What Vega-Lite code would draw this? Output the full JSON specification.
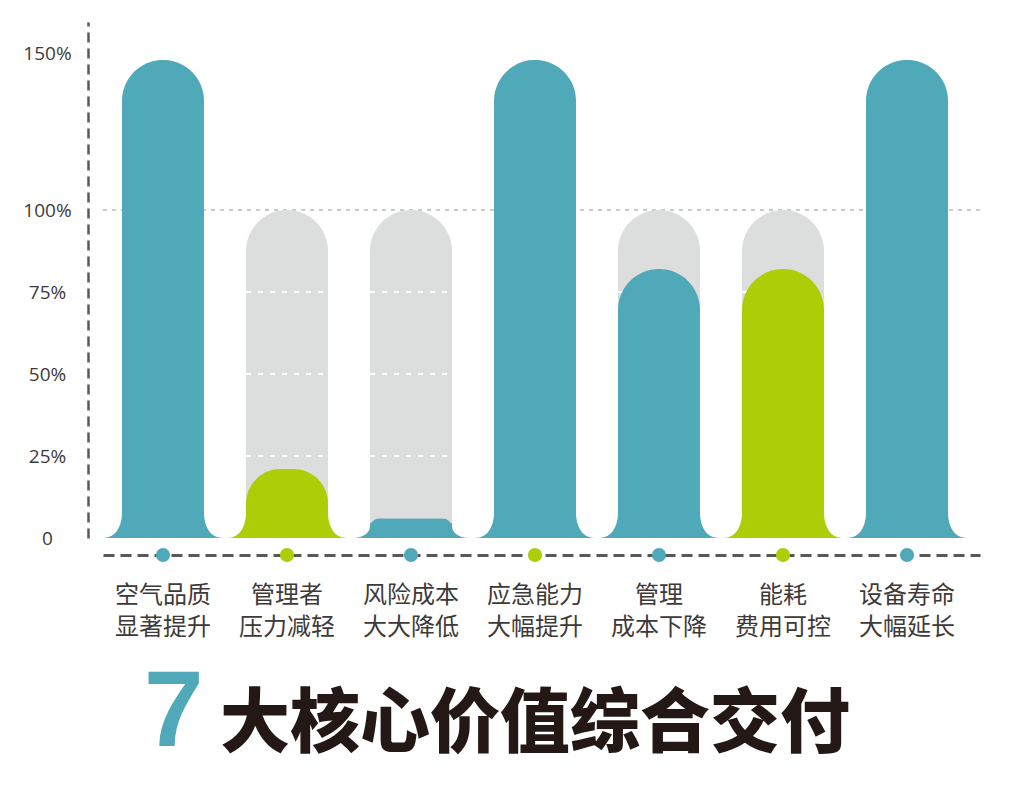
{
  "$schema": "https://vega.github.io/schema/vega-lite/v6.json",
  "width": 877,
  "height": 516,
  "autosize": {"type": "none"},
  "padding": {"left": 103, "top": 22, "right": 37, "bottom": 254},
  "background": "#ffffff",
  "config": {
    "view": {"stroke": null},
    "axisX": {
      "domainDash": [11, 6],
      "domainColor": "#595757",
      "domainWidth": 3,
      "offset": 17,
      "ticks": false,
      "tickSize": 0,
      "grid": false,
      "labelAngle": 0,
      "labelFont": "Noto Sans CJK SC",
      "labelFontSize": 24,
      "labelColor": "#3e3a39",
      "labelLineHeight": 32,
      "labelPadding": 28
    },
    "axisY": {
      "domainDash": [10, 6],
      "domainColor": "#595757",
      "domainWidth": 2.5,
      "offset": 15,
      "ticks": false,
      "tickSize": 0,
      "grid": false,
      "labelFont": "Open Sans",
      "labelFontSize": 19,
      "labelColor": "#3e3a39",
      "labelAlign": "center",
      "labelBaseline": "middle",
      "labelPadding": 41
    }
  },
  "title": {
    "text": "7",
    "subtitle": "大核心价值综合交付",
    "orient": "bottom",
    "anchor": "start",
    "frame": "group",
    "offset": 22,
    "dx": 41,
    "font": "Liberation Sans",
    "fontSize": 107,
    "fontWeight": "bold",
    "color": "#50a9b8",
    "subtitleFont": "Noto Sans CJK SC",
    "subtitleFontSize": 70,
    "subtitleFontWeight": 900,
    "subtitleColor": "#231815",
    "subtitlePadding": -76,
    "encode": {"subtitle": {"update": {"dx": {"value": 117}}}}
  },
  "data": {
    "values": [
      {"item": "空气品质 显著提升", "value": 147.8, "base": null, "bar": "A", "dot": "A"},
      {"item": "管理者 压力减轻", "value": 21, "base": 100, "bar": "B", "dot": "B"},
      {"item": "风险成本 大大降低", "value": 6, "base": 100, "bar": "A", "dot": "A"},
      {"item": "应急能力 大幅提升", "value": 147.8, "base": null, "bar": "A", "dot": "B"},
      {"item": "管理 成本下降", "value": 82, "base": 100, "bar": "A", "dot": "A"},
      {"item": "能耗 费用可控", "value": 82, "base": 100, "bar": "B", "dot": "B"},
      {"item": "设备寿命 大幅延长", "value": 147.8, "base": null, "bar": "A", "dot": "A"}
    ]
  },
  "layer": [
    {
      "data": {"values": [{"ref": 100}]},
      "mark": {"type": "rule", "color": "#c9caca", "strokeWidth": 2, "strokeDash": [4, 5]},
      "encoding": {
        "y": {
          "field": "ref",
          "type": "quantitative",
          "title": null,
          "scale": {"domain": [0, 100, 150, 159.87], "range": [516, 188, 31, 0], "nice": false, "zero": true},
          "axis": {
            "values": [0, 25, 50, 75, 100, 150],
            "labelExpr": "datum.value == 0 ? '0' : datum.value + '%'"
          }
        }
      }
    },
    {
      "transform": [{"filter": "datum.base != null"}],
      "mark": {"type": "bar", "color": "#dcdddd", "cornerRadiusTopLeft": 41, "cornerRadiusTopRight": 41},
      "encoding": {
        "x": {
          "field": "item",
          "type": "nominal",
          "sort": null,
          "title": null,
          "scale": {
            "domain": ["空气品质 显著提升", "管理者 压力减轻", "风险成本 大大降低", "应急能力 大幅提升", "管理 成本下降", "能耗 费用可控", "设备寿命 大幅延长"],
            "paddingInner": 0.3387, "paddingOuter": 0.2056, "align": 0.3725
          },
          "axis": {"labelExpr": "split(datum.label, ' ')"}
        },
        "y": {"field": "base", "type": "quantitative", "title": null}
      }
    },
    {
      "transform": [{"filter": "datum.base != null"}],
      "mark": {"type": "rule", "color": "#ffffff", "strokeWidth": 2, "strokeDash": [5, 7], "xOffset": -41, "x2Offset": 41},
      "encoding": {
        "x": {"field": "item", "type": "nominal", "sort": null, "title": null},
        "x2": {"field": "item"},
        "y": {"datum": 25, "type": "quantitative", "title": null}
      }
    },
    {
      "transform": [{"filter": "datum.base != null"}],
      "mark": {"type": "rule", "color": "#ffffff", "strokeWidth": 2, "strokeDash": [5, 7], "xOffset": -41, "x2Offset": 41},
      "encoding": {
        "x": {"field": "item", "type": "nominal", "sort": null, "title": null},
        "x2": {"field": "item"},
        "y": {"datum": 50, "type": "quantitative", "title": null}
      }
    },
    {
      "transform": [{"filter": "datum.base != null"}],
      "mark": {"type": "rule", "color": "#ffffff", "strokeWidth": 2, "strokeDash": [5, 7], "xOffset": -41, "x2Offset": 41},
      "encoding": {
        "x": {"field": "item", "type": "nominal", "sort": null, "title": null},
        "x2": {"field": "item"},
        "y": {"datum": 75, "type": "quantitative", "title": null}
      }
    },
    {
      "mark": {"type": "point", "filled": true, "opacity": 1, "strokeWidth": 0},
      "encoding": {
        "x": {"field": "item", "type": "nominal", "sort": null, "title": null},
        "y": {"datum": 0, "type": "quantitative", "title": null},
        "shape": {
          "condition": {"test": "datum.value < 10", "value": "M -0.975 0 C -0.78 0 -0.683 -0.1 -0.683 -0.2 L -0.683 -0.25 L 0.683 -0.25 L 0.683 -0.2 C 0.683 -0.1 0.78 0 0.975 0 Z"},
          "value": "M -1.005 0 C -0.78 0 -0.683 -0.2 -0.683 -0.433 L -0.683 -0.5 L 0.683 -0.5 L 0.683 -0.433 C 0.683 -0.2 0.78 0 1.005 0 Z"
        },
        "size": {"value": 14400},
        "color": {"field": "bar", "type": "nominal", "scale": {"domain": ["A", "B"], "range": ["#50a9b8", "#adcd06"]}, "legend": null}
      }
    },
    {
      "mark": {"type": "bar", "cornerRadiusTopLeft": 41, "cornerRadiusTopRight": 41},
      "encoding": {
        "x": {"field": "item", "type": "nominal", "sort": null, "title": null},
        "y": {"field": "value", "type": "quantitative", "title": null},
        "color": {"field": "bar", "type": "nominal", "legend": null}
      }
    },
    {
      "mark": {"type": "point", "shape": "circle", "filled": true, "opacity": 1, "size": 200, "yOffset": 17, "strokeWidth": 0},
      "encoding": {
        "x": {"field": "item", "type": "nominal", "sort": null, "title": null},
        "y": {"datum": 0, "type": "quantitative", "title": null},
        "color": {"field": "dot", "type": "nominal", "legend": null}
      }
    }
  ]
}
